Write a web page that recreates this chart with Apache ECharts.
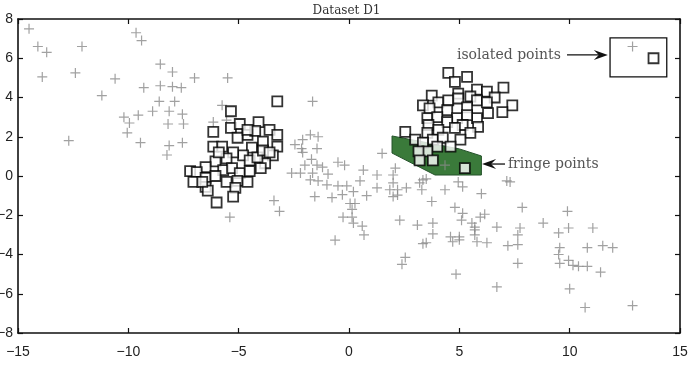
<!DOCTYPE html>
<html style="height: 100%">
<head>
<meta charset="utf-8">
</head>
<body style="height: 100%; margin: 0; background: #fff">
<div id="container" style="width: 693px; height: 380px;"></div>
<script type="text/javascript" src="https://cdn.jsdelivr.net/npm/echarts@6/dist/echarts.min.js"></script>
<script type="text/javascript">
// gray "+" points (x, y)
var plusPoints = [
    [-14.5,7.5],[-14.1,6.6],[-13.7,6.3],[-13.9,5.05],[-12.4,5.25],[-12.1,6.6],[-12.7,1.8],[-11.2,4.1],
    [-10.6,4.95],[-9.65,7.3],[-9.4,6.9],[-10.2,3.0],[-9.95,2.7],[-10.05,2.2],[-9.55,3.1],[-9.45,1.7],
    [-9.3,4.5],[-8.9,3.3],[-8.55,5.7],[-8.55,4.6],[-8.6,3.8],[-8.15,3.3],[-8.2,2.65],[-8.15,1.55],
    [-8.25,1.07],[-8.0,5.3],[-8.0,4.55],[-7.6,4.5],[-7.9,3.8],[-7.55,3.15],[-7.5,2.65],[-7.55,1.7],
    [-7.0,5.0],[-5.5,5.0],[-5.75,3.6],[-6.15,2.75],[-5.55,2.85],[-1.65,3.8],[-3.4,-1.25],[-3.15,-1.8],
    [-5.4,-2.1],[-0.63,-3.27],
    [-1.75,2.1],[-1.4,2.0],[-2.1,1.85],[-2.45,1.6],[-2.15,1.4],[-1.45,1.4],[-2.1,1.2],[-1.7,0.85],
    [-2.0,0.55],[-1.45,0.55],[-1.2,0.45],[-2.6,0.15],[-2.2,0.15],[-1.65,0.15],[-0.95,0.1],[-1.75,-0.2],
    [-1.4,-0.25],[-1.0,-0.45],[-0.5,0.7],[-0.2,0.55],[-0.5,-0.5],[-0.1,-0.5],[0.2,-0.8],[-0.3,-0.95],
    [0.65,0.3],[0.5,-0.25],[0.8,-1.0],[0.05,-1.4],[0.27,-1.4],[0.14,-1.7],[-0.27,-2.1],[0.14,-2.1],
    [0.2,-2.4],[0.6,-2.55],[0.68,-3.0],[-1.55,-1.05],[-0.77,-1.1],[1.5,1.15],[1.27,0.05],[1.27,-0.6],
    [2.1,0.4],[2.0,0.05],[2.0,-0.35],[2.2,-0.7],[2.0,-1.05],[2.2,-0.97],[2.3,-2.25],[2.6,-0.6],
    [1.85,-0.7],[3.2,-0.35],[3.5,-0.15],[3.35,-0.2],[3.3,-0.7],[3.75,-1.3],[4.35,-0.7],[4.95,-0.3],
    [5.15,-0.55],[6.0,-0.9],[7.15,-0.25],[7.3,-0.3],[3.1,-2.5],[3.8,-2.4],[3.8,-2.95],[3.35,-3.45],
    [3.5,-3.4],[2.55,-4.15],[2.4,-4.5],[4.8,-1.6],[5.15,-1.9],[5.1,-2.25],[5.57,-2.4],[5.7,-2.6],
    [5.95,-2.1],[6.15,-1.95],[4.6,-3.1],[5.0,-3.1],[4.7,-3.35],[5.0,-3.25],[5.8,-3.35],[6.25,-3.4],
    [5.7,-2.75],[5.7,-3.0],[6.7,-2.6],[7.2,-3.55],[7.65,-3.5],[7.75,-2.65],[7.65,-3.0],[7.85,-1.6],
    [7.65,-4.45],[4.85,-5.0],[6.7,-5.65],[8.8,-2.4],[9.9,-1.8],[9.95,-2.65],[9.5,-2.9],[9.55,-3.65],
    [9.5,-4.0],[9.55,-4.45],[9.95,-4.3],[10.15,-4.55],[10.4,-4.6],[10.8,-4.6],[10.8,-3.65],[11.05,-2.65],
    [11.5,-3.55],[11.95,-3.65],[11.4,-4.9],[10.0,-5.75],[10.7,-6.7],[12.85,-6.6],[4.35,0.55],
    [12.85,6.6]
];

// square points, left cluster
var clusterA = [
    [-3.25,3.8],[-5.35,3.3],[-6.15,2.25],[-5.35,2.45],[-4.95,2.65],[-4.6,2.1],[-4.1,2.75],[-3.6,2.35],
    [-3.25,2.1],[-4.25,2.3],[-3.9,1.75],[-3.25,1.5],[-3.45,1.05],[-3.8,0.65],[-6.15,1.5],[-5.75,1.5],
    [-5.05,1.95],[-4.4,1.45],[-4.8,1.05],[-5.25,1.2],[-5.55,0.9],[-6.05,0.75],[-4.5,0.8],[-4.15,0.95],
    [-7.2,0.25],[-6.5,0.45],[-6.9,0.2],[-5.7,0.3],[-5.3,0.4],[-4.95,0.15],[-4.5,0.25],[-7.05,-0.3],
    [-6.5,-0.1],[-6.05,0.0],[-5.55,-0.3],[-5.05,-0.25],[-4.6,-0.3],[-6.5,-0.55],[-6.4,-0.75],[-5.15,-0.6],
    [-5.25,-1.05],[-6.0,-1.35],[-6.65,-0.3],[-3.9,1.3],[-4.6,2.35],[-5.9,1.2],[-4.0,0.4],[-3.6,1.2]
];

// square points, right cluster (incl. fringe point)
var clusterB = [
    [4.5,5.25],[4.8,4.8],[5.35,5.05],[4.95,4.2],[5.8,4.4],[6.25,4.3],[7.0,4.5],[3.75,4.1],
    [5.5,4.05],[6.6,4.0],[7.4,3.6],[3.35,3.6],[4.05,3.75],[4.5,3.85],[4.95,3.95],[5.8,3.85],
    [6.25,3.75],[3.65,3.45],[4.45,3.35],[5.35,3.5],[6.95,3.25],[6.3,3.2],[3.55,2.95],[4.0,3.0],
    [4.9,2.95],[5.8,2.95],[5.35,3.1],[3.6,2.6],[4.45,2.75],[5.15,2.6],[5.85,2.5],[4.05,2.35],
    [4.8,2.45],[3.55,2.2],[5.5,2.2],[2.55,2.25],[3.0,1.85],[3.8,1.85],[4.25,1.95],[5.05,1.85],
    [3.35,1.7],[4.0,1.5],[4.6,1.5],[3.55,1.25],[3.15,1.25],[3.2,0.8],[3.8,0.8],[5.25,0.4]
];

var isolatedSquares = [[13.8,6.0]];

// annotation shapes, in data units
var fringePolygon = [[1.95,2.04],[1.95,1.17],[3.9,0.05],[6.0,0.05],[6.0,1.02],[5.0,1.38]];
var isolatedBox = [[11.83,7.04],[14.4,5.05]];
var arrows = [
    { from: [9.88,6.17], to: [11.73,6.17], text: 'isolated points', textAt: [9.6,6.17], align: 'right' },
    { from: [7.07,0.61], to: [6.03,0.61], text: 'fringe points', textAt: [7.2,0.61], align: 'left' }
];

var xTicks = { min: -15, max: 15, interval: 5 };
var yTicks = { min: -8, max: 8, interval: 2 };

var dom = document.getElementById('container');
var myChart = echarts.init(dom, null, { renderer: 'canvas' });

var labelFont = "'Liberation Sans Narrow', 'Liberation Sans', sans-serif";
var serifFont = "'DejaVu Serif', 'Liberation Serif', serif";
var plusPath = 'path://M4.4,0h1.2v10h-1.2z M0,4.4h10v1.2h-10z';

function axisBase(pos, show, ticks, margin) {
    return {
        type: 'value',
        position: pos,
        min: ticks.min,
        max: ticks.max,
        interval: ticks.interval,
        splitLine: { show: false },
        axisLine: { show: true, onZero: false, lineStyle: { color: '#111', width: 1.6 } },
        axisTick: { show: true, inside: true, length: 5, lineStyle: { color: '#111', width: 1.2 } },
        axisLabel: {
            show: show, color: '#222', fontSize: 14, fontFamily: labelFont, margin: margin,
            formatter: function (v) { return String(v).replace('-', '\u2212'); }
        }
    };
}

function arrowHead(tip, dir) {
    // dir: +1 points right, -1 points left
    var L = 14, W = 5, n = 9;
    return [tip, [tip[0] - dir * L, tip[1] - W], [tip[0] - dir * n, tip[1]], [tip[0] - dir * L, tip[1] + W]];
}

var option = {
    animation: false,
    backgroundColor: '#fff',
    title: {
        text: 'Dataset D1',
        left: 'center',
        top: 0,
        textStyle: { fontFamily: serifFont, fontSize: 12, fontWeight: 'normal', color: '#333' }
    },
    grid: { left: 18, right: 13, top: 19, bottom: 47, containLabel: false, outerBoundsMode: 'none' },
    xAxis: [axisBase('bottom', true, xTicks, 12), axisBase('top', false, xTicks, 6)],
    yAxis: [axisBase('left', true, yTicks, 5), axisBase('right', false, yTicks, 6)],
    series: [
        {
            type: 'custom',
            z: 1,
            data: [0],
            silent: true,
            renderItem: function (params, api) {
                var pts = fringePolygon.map(function (p) { return api.coord(p); });
                return {
                    type: 'polygon',
                    shape: { points: pts },
                    style: { fill: '#3a7a3a', stroke: '#24522a', lineWidth: 1 }
                };
            }
        },
        {
            type: 'scatter',
            z: 2,
            symbol: plusPath,
            symbolSize: 10,
            itemStyle: { color: '#8a8a8a' },
            data: plusPoints
        },
        {
            type: 'scatter',
            z: 3,
            symbol: 'rect',
            symbolSize: 10,
            itemStyle: { color: '#fff', borderColor: '#000', borderWidth: 1.8 },
            data: clusterA.concat(clusterB)
        },
        {
            type: 'custom',
            z: 4,
            data: [0],
            silent: true,
            renderItem: function (params, api) {
                var a = api.coord(isolatedBox[0]);
                var b = api.coord(isolatedBox[1]);
                var children = [{
                    type: 'rect',
                    shape: { x: a[0], y: a[1], width: b[0] - a[0], height: b[1] - a[1] },
                    style: { fill: 'none', stroke: '#111', lineWidth: 1.3 }
                }];
                arrows.forEach(function (ar) {
                    var f = api.coord(ar.from), t = api.coord(ar.to);
                    var dir = t[0] > f[0] ? 1 : -1;
                    children.push({
                        type: 'line',
                        shape: { x1: f[0], y1: f[1], x2: t[0] - dir * 8, y2: t[1] },
                        style: { stroke: '#111', lineWidth: 1.3 }
                    });
                    children.push({
                        type: 'polygon',
                        shape: { points: arrowHead(t, dir) },
                        style: { fill: '#111' }
                    });
                    var p = api.coord(ar.textAt);
                    children.push({
                        type: 'text',
                        x: p[0], y: p[1],
                        style: {
                            text: ar.text,
                            fontFamily: serifFont,
                            fontSize: 14,
                            fill: '#555',
                            align: ar.align,
                            verticalAlign: 'middle'
                        }
                    });
                });
                return { type: 'group', children: children };
            }
        },
        {
            type: 'scatter',
            z: 5,
            symbol: 'rect',
            symbolSize: 10,
            itemStyle: { color: '#fff', borderColor: '#000', borderWidth: 1.8 },
            data: isolatedSquares
        }
    ]
};

myChart.setOption(option);
</script>
</body>
</html>
